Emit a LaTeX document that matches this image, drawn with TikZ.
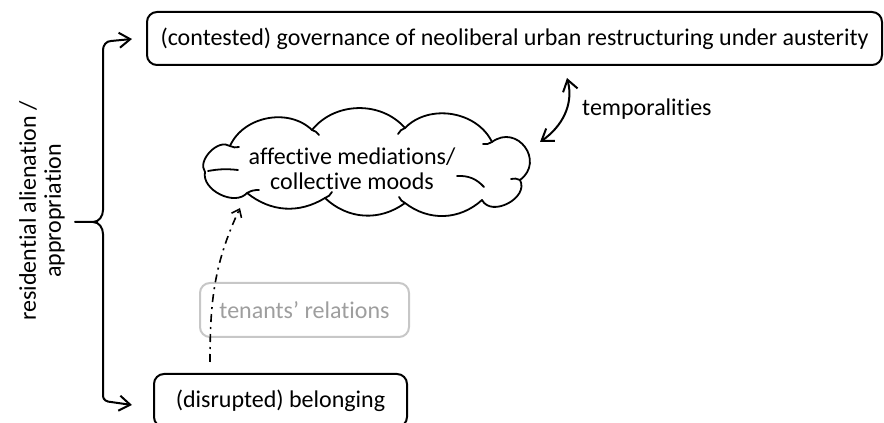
\documentclass[tikz,border=0pt]{standalone}
\usepackage{fontspec}
\setmainfont{Carlito}[Ligatures={NoCommon,NoRequired,NoContextual}]
\usetikzlibrary{arrows.meta}
\begin{document}
\begin{tikzpicture}[x=1pt,y=1pt,
  txt/.style={font=\fontsize{24}{25}\selectfont},
  box/.style={txt, draw, line width=2pt, rounded corners=10pt, inner sep=0pt},
  greybox/.style={box, draw=black!22, text=black!38},
  barb/.style={line width=2pt, line join=round, line cap=round},
  cloudline/.style={line width=1.8pt, line join=round, line cap=round},
  dashdotarrow/.style={line width=1.6pt, dash pattern=on 8pt off 5pt on 2pt off 5pt,
    -{Straight Barb[length=7pt,width=11pt,line width=1.6pt]}},
]
\useasboundingbox (0,0) rectangle (884,423);
\clip (0,0) rectangle (884,423);

% nodes
\node[box, minimum width=735pt, minimum height=53pt] (gov) at (514.5,384.5)
  {(contested) governance of neoliberal urban restructuring under austerity};
\node[box, minimum width=253pt, minimum height=53pt] (bel) at (280.5,22.5)
  {(disrupted) belonging};
\node[greybox, minimum width=209pt, minimum height=54pt] (ten) at (304.5,113)
  {tenants’ relations};
\node[txt, align=center] (mood) at (352,254) {affective mediations/\\collective moods};
\node[txt, anchor=base west, inner sep=0pt] (temp) at (582,307) {temporalities};
\node[txt, align=center, rotate=90, inner sep=0pt] (res) at (42,212)
  {residential alienation /\\appropriation};

% cloud outline
\coordinate (c1) at (205,251);
\coordinate (c2) at (230,277);
\coordinate (c3) at (312,293);
\coordinate (c4) at (405,295);
\coordinate (c5) at (492,281);
\coordinate (c6) at (520,243);
\coordinate (c7) at (482,223);
\coordinate (c8) at (405,220);
\coordinate (c9) at (325,225);
\coordinate (c10) at (247,230);
\draw[cloudline]
  (c1) to[bend left=80] (c2) to[bend left=55] (c3) to[bend left=50] (c4)
  to[bend left=55] (c5) to[bend left=90, looseness=1.7] (c6)
  to[bend left=90, looseness=1.2] (c7) to[bend left=40] (c8)
  to[bend left=40] (c9) to[bend left=35] (c10) to[bend left=75] (c1) -- cycle;
% inner strokes of the cloud
\draw[cloudline] (208,252) to[bend left=8] (238,253);
\draw[cloudline] (c2) to[bend right=20] (239,276);
\draw[cloudline] (c3) to[bend left=20] (319,288);
\draw[cloudline] (c4) to[bend right=20] (398,289);
\draw[cloudline] (c5) to[bend left=20] (483,279);
\draw[cloudline] (c6) to[bend right=20] (511,244);
\draw[cloudline] (457,247) to[bend left=25] (484,236);
\draw[cloudline] (c8) to[bend left=20] (399,226);
\draw[cloudline] (c9) to[bend right=20] (332,231);
\draw[cloudline] (c10) to[bend left=15] (259,233);

% temporalities arrow
\coordinate (t1) at (567,345);
\coordinate (t2) at (540,281);
\draw[barb, {Straight Barb[length=11pt,width=15pt]}-{Straight Barb[length=11pt,width=15pt]}]
  (t1) to[out=-75,in=35] (t2);

% dash-dot arrow from belonging to cloud
\coordinate (d1) at (bel.north -| 210,0);
\coordinate (d2) at (240,215);
\draw[dashdotarrow] ([yshift=11pt]d1) to[out=90,in=-115] (d2);

% brace with arrows
\coordinate (bt) at (132,384);
\coordinate (bb) at (132,18);
\coordinate (bm) at (75,201);
\draw[barb, {Straight Barb[length=11pt,width=15pt]}-{Straight Barb[length=11pt,width=15pt]}]
  (bt) -- (111,382) to[out=180,in=90] (103,373) -- (103,213)
  to[out=-90,in=0] (93,201) -- (bm) -- (93,201)
  to[out=0,in=90] (103,189) -- (103,27) to[out=-90,in=180] (111,21) -- (bb);
\end{tikzpicture}
\end{document}
